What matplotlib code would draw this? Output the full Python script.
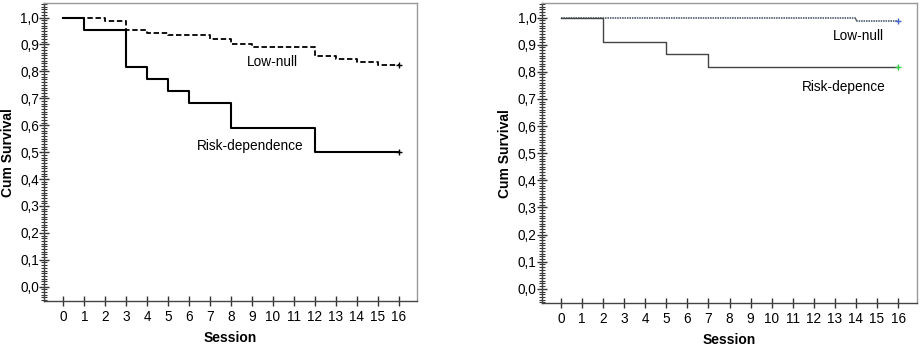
import matplotlib.pyplot as plt
from matplotlib.ticker import MultipleLocator, FuncFormatter

plt.rcParams['font.family'] = ['Liberation Sans', 'DejaVu Sans']

# left panel
left_low_x = [0, 2, 3, 4, 5, 7, 8, 9, 12, 13, 14, 15, 16]
left_low_y = [1.0, 0.987, 0.955, 0.944, 0.934, 0.922, 0.901, 0.889, 0.856, 0.845, 0.834, 0.823, 0.823]
left_risk_x = [0, 1, 3, 4, 5, 6, 8, 12, 16]
left_risk_y = [1.0, 0.955, 0.818, 0.773, 0.727, 0.682, 0.591, 0.5, 0.5]

# right panel
right_low_x = [0, 14, 16]
right_low_y = [1.0, 0.988, 0.988]
right_risk_x = [0, 2, 5, 7, 16]
right_risk_y = [1.0, 0.909, 0.864, 0.818, 0.818]

sessions = list(range(17))

fig = plt.figure(figsize=(9.21, 3.47), dpi=100)
ax1 = fig.add_axes([0.0478, 0.1326, 0.405, 0.858])
ax2 = fig.add_axes([0.588, 0.126, 0.4073, 0.865])

def style_axis(ax):
    ax.set_xlim(-0.92, 16.88)
    ax.set_ylim(-0.053, 1.053)
    ax.set_xticks(sessions)
    ax.yaxis.set_major_locator(MultipleLocator(0.1))
    ax.yaxis.set_minor_locator(MultipleLocator(0.01))
    ax.yaxis.set_major_formatter(FuncFormatter(lambda v, p: f"{v:.1f}".replace('.', ',')))
    ax.tick_params(axis='y', which='major', direction='inout', length=7, width=1, labelsize=9.8, pad=0, colors='#333333', labelcolor='black')
    ax.tick_params(axis='y', which='minor', direction='inout', length=4, width=0.8, colors='#333333')
    ax.tick_params(axis='x', which='major', direction='inout', length=7, width=1, labelsize=9.8, pad=3, colors='#333333', labelcolor='black')
    for s in ['top', 'right']:
        ax.spines[s].set_color('#999999')
        ax.spines[s].set_linewidth(1)
    for s in ['left', 'bottom']:
        ax.spines[s].set_color('#444444')
        ax.spines[s].set_linewidth(1)
    ax.set_xlabel('Session', fontsize=10, fontweight='bold', labelpad=5)
    ax.set_ylabel('Cum Survival', fontsize=10, fontweight='bold', labelpad=4)

ax1.step(left_low_x, left_low_y, where='post', color='black', lw=1.3, ls=(0, (3, 1.5)))
ax1.step(left_risk_x, left_risk_y, where='post', color='black', lw=1.5)
ax1.plot(left_low_x[-1], left_low_y[-1], marker='+', color='black', ms=5, mew=1)
ax1.plot(left_risk_x[-1], left_risk_y[-1], marker='+', color='black', ms=5, mew=1)
ax1.text(10.0, 0.834, 'Low-null', fontsize=9.8, ha='center', va='center')
ax1.text(8.9, 0.523, 'Risk-dependence', fontsize=9.8, ha='center', va='center')
style_axis(ax1)

ax2.step(right_low_x, right_low_y, where='post', color='#3a4a5c', lw=1.1, ls=(0, (1, 0.6)))
ax2.step(right_risk_x, right_risk_y, where='post', color='#444444', lw=1)
ax2.plot(right_low_x[-1], right_low_y[-1], marker='+', color='#4466cc', ms=5, mew=1)
ax2.plot(right_risk_x[-1], right_risk_y[-1], marker='+', color='#33cc44', ms=5, mew=1)
ax2.text(14.1, 0.933, 'Low-null', fontsize=9.8, ha='center', va='center')
ax2.text(13.4, 0.743, 'Risk-depence', fontsize=9.8, ha='center', va='center')
style_axis(ax2)

fig.savefig('out.png', dpi=100)
